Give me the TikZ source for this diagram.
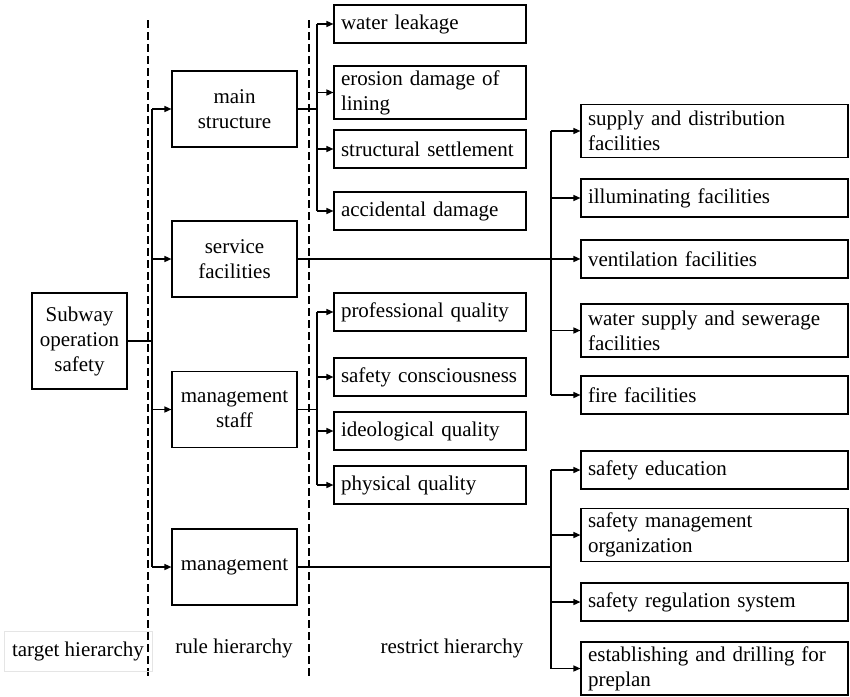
\documentclass[tikz,border=0pt]{standalone}
\usepackage{fontspec}
\setmainfont{Liberation Serif}
\usetikzlibrary{arrows.meta}
\begin{document}
\begin{tikzpicture}[x=1pt,y=-1pt,
  every node/.style={font=\fontsize{21}{25}\selectfont},
  box/.style={draw, line width=1.1pt, inner sep=0pt},
  rulebox/.style={box, minimum width=125pt, minimum height=76pt, align=center},
  leafbox/.style={box, text width=178pt, inner xsep=7pt, minimum height=38pt, align=left},
  widebox/.style={box, text width=253pt, inner xsep=7pt, minimum height=38pt, align=left},
  tall/.style={minimum height=53pt},
  link/.style={line width=1.4pt},
  arr/.style={link, -{Triangle[length=7pt,width=6pt]}},
  divider/.style={line width=2pt, dash pattern=on 8pt off 4pt}
]
\useasboundingbox (0,0) rectangle (850,696);

% hierarchy dividers
\coordinate (d1t) at (148,20);
\coordinate (d1b) at (148,676);
\coordinate (d2t) at (309,20);
\coordinate (d2b) at (309,676);
\draw[divider] (d1t) -- (d1b);
\draw[divider] (d2t) -- (d2b);

% target level
\node[box, minimum width=95pt, minimum height=96pt, align=center] (sos) at (79.5,341) {Subway\\operation\\safety};

% rule level
\node[rulebox] (ms) at (234.5,109) {main\\structure};
\node[rulebox] (sf) at (234.5,259) {service\\facilities};
\node[rulebox] (st) at (234.5,409.5) {management\\staff};
\node[rulebox] (mg) at (234.5,567) {management};

% restrict level: main structure
\node[leafbox] (wl) at (430,24) {water leakage};
\node[leafbox, tall] (ed) at (430,92.5) {erosion damage of\\lining};
\node[leafbox] (ss) at (430,149) {structural settlement};
\node[leafbox] (ad) at (430,211) {accidental damage};

% restrict level: management staff
\node[leafbox] (pq) at (430,312) {professional quality};
\node[leafbox] (sc) at (430,377) {safety consciousness};
\node[leafbox] (iq) at (430,431) {ideological quality};
\node[leafbox] (phq) at (430,485) {physical quality};

% restrict level: service facilities
\node[widebox, tall] (sd) at (714.5,131) {supply and distribution\\facilities};
\node[widebox] (il) at (714.5,198) {illuminating facilities};
\node[widebox] (vf) at (714.5,259) {ventilation facilities};
\node[widebox, tall] (ws) at (714.5,330.5) {water supply and sewerage\\facilities};
\node[widebox] (ff) at (714.5,395) {fire facilities};

% restrict level: management
\node[widebox] (se) at (714.5,470) {safety education};
\node[widebox, tall] (so) at (714.5,535) {safety management\\organization};
\node[widebox] (sr) at (714.5,602) {safety regulation system};
\node[widebox, tall] (ep) at (714.5,668.5) {establishing and drilling for\\preplan};

% level labels
\node[draw=black!10, line width=0.6pt, minimum width=148pt, minimum height=40pt, inner sep=0pt] (lt) at (78,651) {target hierarchy};
\node (lr) at (234,648) {rule hierarchy};
\node (lx) at (452,648) {restrict hierarchy};

% bus positions
\coordinate (b0) at (152,0);
\coordinate (b1) at (317,0);
\coordinate (b2) at (551,0);

% target -> rules
\draw[link] (sos.east) -- (b0 |- sos.east);
\draw[link] (b0 |- ms.west) -- (b0 |- mg.west);
\foreach \n in {ms,sf,st,mg} \draw[arr] (b0 |- \n.west) -- (\n.west);

% main structure -> items
\draw[link] (ms.east) -- (b1 |- ms.east);
\draw[link] (b1 |- wl.west) -- (b1 |- ad.west);
\foreach \n in {wl,ed,ss,ad} \draw[arr] (b1 |- \n.west) -- (\n.west);

% management staff -> items
\draw[link] (st.east) -- (b1 |- st.east);
\draw[link] (b1 |- pq.west) -- (b1 |- phq.west);
\foreach \n in {pq,sc,iq,phq} \draw[arr] (b1 |- \n.west) -- (\n.west);

% service facilities -> items
\draw[link] (sf.east) -- (b2 |- sf.east);
\draw[link] (b2 |- sd.west) -- (b2 |- ff.west);
\foreach \n in {sd,il,vf,ws,ff} \draw[arr] (b2 |- \n.west) -- (\n.west);

% management -> items
\draw[link] (mg.east) -- (b2 |- mg.east);
\draw[link] (b2 |- se.west) -- (b2 |- ep.west);
\foreach \n in {se,so,sr,ep} \draw[arr] (b2 |- \n.west) -- (\n.west);
\end{tikzpicture}
\end{document}
